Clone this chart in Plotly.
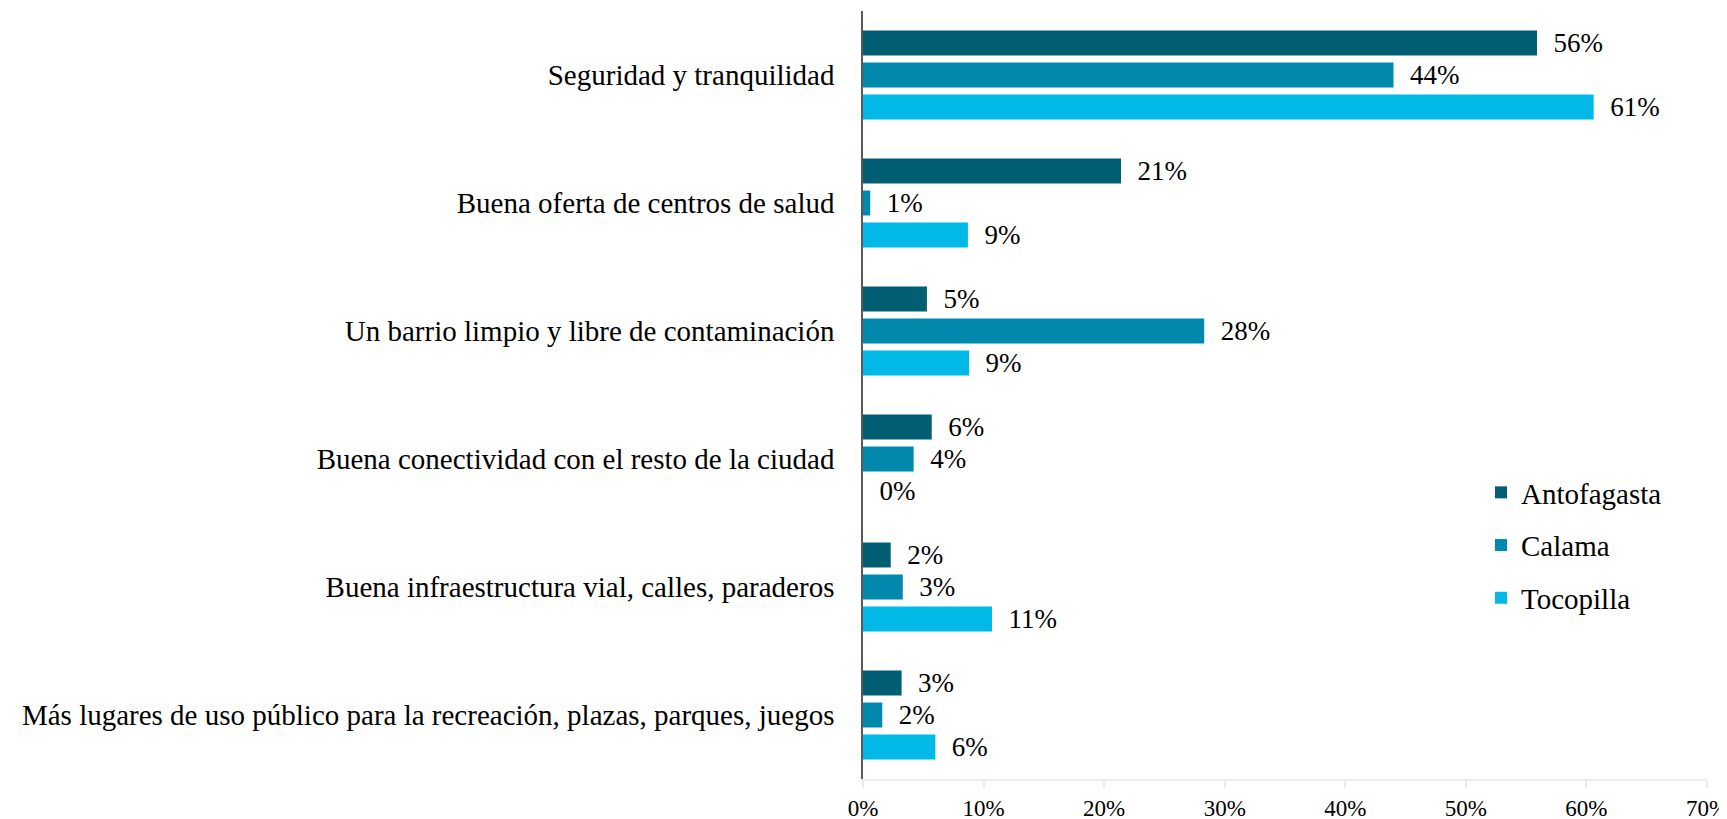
import plotly.graph_objects as go

categories = [
    "Seguridad y tranquilidad",
    "Buena oferta de centros de salud",
    "Un barrio limpio y libre de contaminación",
    "Buena conectividad con el resto de la ciudad",
    "Buena infraestructura vial, calles, paraderos",
    "Más lugares de uso público para la recreación, plazas, parques, juegos",
]
series_names = ["Antofagasta", "Calama", "Tocopilla"]
antofagasta = [55.9, 21.4, 5.3, 5.7, 2.3, 3.2]
calama = [44.0, 0.6, 28.3, 4.2, 3.3, 1.6]
tocopilla = [60.6, 8.7, 8.8, 0.0, 10.7, 6.0]
x_tick_vals = [0, 10, 20, 30, 40, 50, 60, 70]
x_tick_text = ["0%", "10%", "20%", "30%", "40%", "50%", "60%", "70%"]

colors = ["#025E73", "#0089AC", "#00B9E6"]
FONT = "Liberation Serif"

fig = go.Figure()
for name, vals, col in zip(series_names, [antofagasta, calama, tocopilla], colors):
    fig.add_trace(go.Bar(
        y=categories, x=vals, name=name, orientation="h",
        marker=dict(color=col, line=dict(width=0)),
        texttemplate="\u00a0\u00a0%{x:.0f}%", textposition="outside",
        constraintext="none",
        textfont=dict(family=FONT, size=27, color="#000000"),
        cliponaxis=False, legendgroup=name,
    ))

# page body has an 8px margin, so the figure is sized/offset accordingly
W, H = 1719, 811
L, R, T, B = 855, 20, 3, 40
fig.update_layout(
    width=W, height=H,
    margin=dict(l=L, r=R, t=T, b=B, autoexpand=False),
    paper_bgcolor="white", plot_bgcolor="white",
    barmode="group", bargap=0.25, bargroupgap=0.22,
    font=dict(family=FONT, color="#000000"),
    showlegend=True,
    legend=dict(
        x=(1473 - L) / (W - L - R), y=(H - B - 459) / (H - T - B),
        xanchor="left", yanchor="top",
        font=dict(family=FONT, size=29, color="#000000"),
        traceorder="grouped", tracegroupgap=12,
        bgcolor="rgba(0,0,0,0)",
    ),
)

fig.update_xaxes(
    range=[0, 70], tickvals=x_tick_vals, ticktext=x_tick_text,
    showgrid=False, zeroline=False, automargin=False,
    showline=True, linecolor="#EBEBEB", linewidth=1.5,
    ticks="outside", ticklen=7, tickcolor="#EBEBEB", tickwidth=1.5,
    ticklabelstandoff=1, ticklabeloverflow="allow",
    tickfont=dict(family=FONT, size=23, color="#000000"),
)
fig.update_yaxes(
    autorange="reversed", categoryorder="array", categoryarray=categories,
    showgrid=False, zeroline=False, automargin=False,
    showline=True, linecolor="#595959", linewidth=1.5,
    ticks="", ticklabelstandoff=21,
    tickfont=dict(family=FONT, size=29, color="#000000"),
)

fig.write_html("out.html")
